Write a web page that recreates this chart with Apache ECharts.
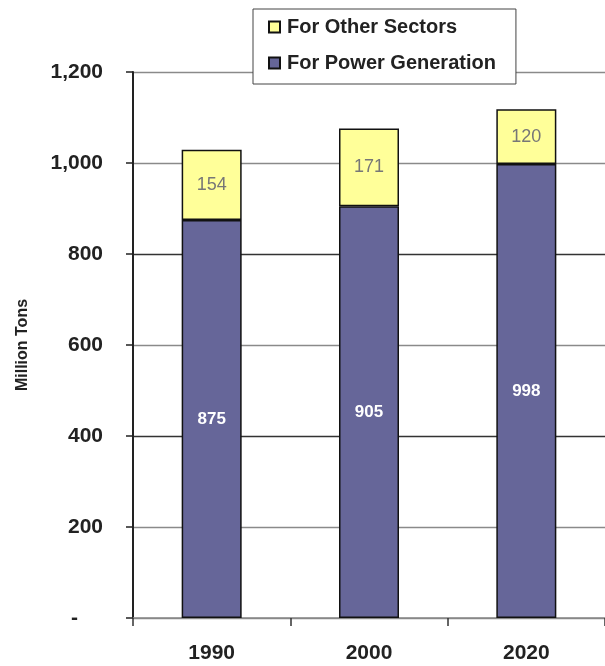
<!DOCTYPE html>
<html>
<head>
<meta charset="utf-8">
<script src="https://cdn.jsdelivr.net/npm/echarts@6/dist/echarts.min.js"></script>
<style>
  html, body { margin: 0; padding: 0; background: #fff; }
  #chart { width: 605px; height: 666px; }
</style>
</head>
<body>
<div id="chart"></div>
<script>
// Coal demand by end use, million tons
const years = ['1990', '2000', '2020'];
const powerGeneration = [875, 905, 998];
const otherSectors = [154, 171, 120];
const yTicks = [0, 200, 400, 600, 800, 1000, 1200];

const FONT = '"Liberation Sans", Arial, sans-serif';

// accounting-style ticks: zero shown as a dash set in from the right
function fmtTick(v) {
  if (v === 0) return '{zero|-}';
  return v.toLocaleString('en-US');
}

// gridline shades from the bottom line upwards
const gridShades = yTicks.map(v => (v === 400 || v === 800) ? '#333333' : '#8a8a8a');

const chart = echarts.init(document.getElementById('chart'), null, { renderer: 'canvas' });

chart.setOption({
  animation: false,
  backgroundColor: '#ffffff',
  legend: {
    data: ['For Other Sectors', 'For Power Generation'],
    orient: 'vertical',
    left: 253,
    top: 9,
    padding: [8, 20, 11, 15],
    itemGap: 16,
    itemWidth: 11,
    itemHeight: 11,
    icon: 'rect',
    backgroundColor: '#ffffff',
    borderColor: '#444444',
    borderWidth: 1,
    textStyle: {
      fontFamily: FONT,
      fontSize: 20,
      fontWeight: 'bold',
      color: '#222222',
      padding: [0, 0, 0, 2]
    }
  },
  grid: {
    left: 133,
    right: -2,
    top: 72,
    bottom: 48
  },
  xAxis: {
    type: 'category',
    data: years,
    axisLine: { show: true, lineStyle: { color: '#888888', width: 1.5 } },
    axisTick: { show: true, length: 8, lineStyle: { color: '#333333', width: 1.5 } },
    axisLabel: {
      margin: 25,
      fontFamily: FONT,
      fontSize: 21,
      fontWeight: 'bold',
      color: '#222222'
    }
  },
  yAxis: {
    type: 'value',
    min: 0,
    max: 1200,
    interval: 200,
    name: 'Million Tons',
    nameLocation: 'middle',
    nameGap: 102,
    nameTextStyle: {
      fontFamily: FONT,
      fontSize: 16,
      fontWeight: 'bold',
      color: '#222222'
    },
    axisLine: { show: true, lineStyle: { color: '#222222', width: 2 } },
    axisTick: { show: true, inside: false, length: 7, lineStyle: { color: '#222222', width: 1.5 } },
    axisLabel: {
      margin: 30,
      fontFamily: FONT,
      fontSize: 21,
      fontWeight: 'bold',
      color: '#222222',
      formatter: fmtTick,
      rich: {
        zero: {
          fontFamily: FONT,
          fontSize: 21,
          fontWeight: 'bold',
          color: '#222222',
          padding: [0, 25, 0, 0]
        }
      }
    },
    splitLine: {
      show: true,
      lineStyle: { color: gridShades, width: 1.3 }
    }
  },
  series: [
    {
      name: 'For Power Generation',
      type: 'bar',
      stack: 'coal',
      barWidth: 60,
      data: powerGeneration,
      itemStyle: { color: '#666699', borderColor: '#111111', borderWidth: 1.5 },
      label: {
        show: true,
        position: 'inside',
        fontFamily: FONT,
        fontSize: 17,
        fontWeight: 'bold',
        color: '#ffffff'
      }
    },
    {
      name: 'For Other Sectors',
      type: 'bar',
      stack: 'coal',
      barWidth: 60,
      data: otherSectors,
      itemStyle: { color: '#ffff99', borderColor: '#111111', borderWidth: 1.5 },
      label: {
        show: true,
        position: 'inside',
        fontFamily: FONT,
        fontSize: 18,
        fontWeight: 'normal',
        color: '#777777'
      }
    }
  ]
});
</script>
</body>
</html>
